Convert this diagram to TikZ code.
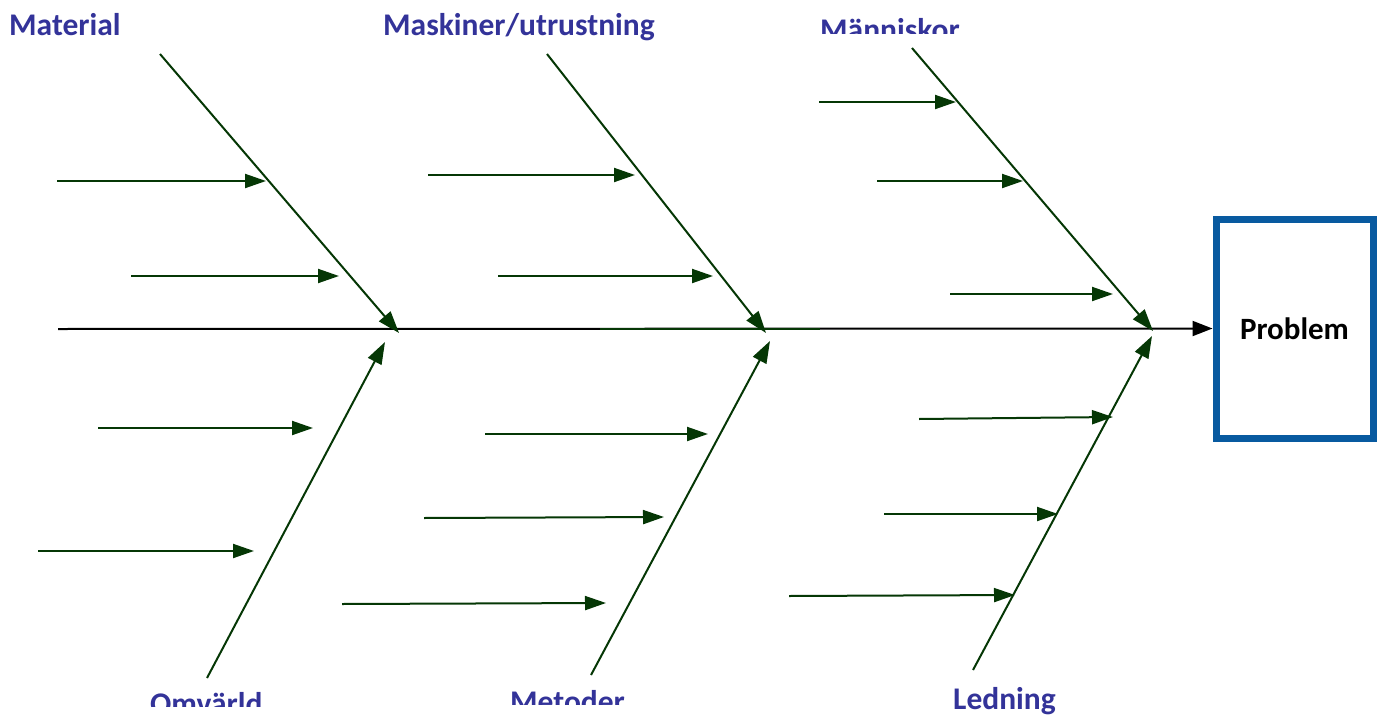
\documentclass[tikz,border=0pt]{standalone}
\usepackage{fontspec}
\setmainfont{Carlito}
\usetikzlibrary{arrows.meta}
\definecolor{bone}{RGB}{5,55,5}
\definecolor{labblue}{RGB}{51,51,153}
\definecolor{boxblue}{RGB}{8,90,160}
\tikzset{
  lab/.style={font=\fontsize{31.5}{37}\selectfont\bfseries, text=labblue, inner sep=0pt, anchor=base west},
  bonearrow/.style={draw=bone, line width=2pt, -{Triangle[length=22pt,width=15pt]}},
  sidearrow/.style={draw=bone, line width=2pt, -{Triangle[length=21pt,width=14pt]}},
  spine/.style={draw=black, line width=2pt},
  probbox/.style={draw=boxblue, line width=7pt, minimum width=157pt, minimum height=219pt, inner sep=0pt, font=\fontsize{31}{37}\selectfont\bfseries}
}
\begin{document}
\begin{tikzpicture}[x=1pt,y=-1pt]
\useasboundingbox (0,0) rectangle (1377,715);
% problem box
\node[probbox] (problem) at (1294.5,328.5) {Problem};
% spine
\coordinate (tail) at (58,329);
\coordinate (g1) at (600,329);
\coordinate (g2) at (820,329);
\draw[spine, -{Triangle[length=20pt,width=15pt]}] (tail) -- (problem.west);
\draw[draw=bone, line width=2pt] (g1) -- (g2);
% labels
\node[lab] (material) at (9,35) {Material};
\node[lab] (maskiner) at (383,35) {Maskiner/utrustning};
\begin{scope}
\clip (800,0) rectangle (1000,33);
\node[lab] (manniskor) at (820,40) {Människor};
\end{scope}
\begin{scope}
\clip (100,680) rectangle (300,706);
\node[lab] (omvarld) at (150,714) {Omvärld};
\end{scope}
\begin{scope}
\clip (480,680) rectangle (680,704);
\node[lab] (metoder) at (510,712) {Metoder};
\end{scope}
\node[lab] (ledning) at (953,709) {Ledning};
% upper bones
\coordinate (a1) at (160,54);   \coordinate (a2) at (399,333);
\coordinate (b1) at (547,54);   \coordinate (b2) at (766,333);
\coordinate (c1) at (912,48);   \coordinate (c2) at (1153,331);
\draw[bonearrow] (a1) -- (a2);
\draw[bonearrow] (b1) -- (b2);
\draw[bonearrow] (c1) -- (c2);
% lower bones
\coordinate (d1) at (207,678);  \coordinate (d2) at (385,342);
\coordinate (e1) at (591,675);  \coordinate (e2) at (770,341);
\coordinate (f1) at (973,670);  \coordinate (f2) at (1152,336);
\draw[bonearrow] (d1) -- (d2);
\draw[bonearrow] (e1) -- (e2);
\draw[bonearrow] (f1) -- (f2);
% side arrows: Material
\coordinate (ma1s) at (57,181);  \coordinate (ma1e) at (266,181);
\coordinate (ma2s) at (131,276); \coordinate (ma2e) at (339,276);
\draw[sidearrow] (ma1s) -- (ma1e);
\draw[sidearrow] (ma2s) -- (ma2e);
% Maskiner
\coordinate (mk1s) at (428,175); \coordinate (mk1e) at (635,175);
\coordinate (mk2s) at (498,276); \coordinate (mk2e) at (713,276);
\draw[sidearrow] (mk1s) -- (mk1e);
\draw[sidearrow] (mk2s) -- (mk2e);
% Människor
\coordinate (mn1s) at (819,102); \coordinate (mn1e) at (956,102);
\coordinate (mn2s) at (877,181); \coordinate (mn2e) at (1023,181);
\coordinate (mn3s) at (950,294); \coordinate (mn3e) at (1113,294);
\draw[sidearrow] (mn1s) -- (mn1e);
\draw[sidearrow] (mn2s) -- (mn2e);
\draw[sidearrow] (mn3s) -- (mn3e);
% Omvärld
\coordinate (om1s) at (98,428);  \coordinate (om1e) at (313,428);
\coordinate (om2s) at (38,551);  \coordinate (om2e) at (254,551);
\draw[sidearrow] (om1s) -- (om1e);
\draw[sidearrow] (om2s) -- (om2e);
% Metoder
\coordinate (me1s) at (485,434); \coordinate (me1e) at (708,434);
\coordinate (me2s) at (424,518); \coordinate (me2e) at (664,517);
\coordinate (me3s) at (342,604); \coordinate (me3e) at (606,603);
\draw[sidearrow] (me1s) -- (me1e);
\draw[sidearrow] (me2s) -- (me2e);
\draw[sidearrow] (me3s) -- (me3e);
% Ledning
\coordinate (le1s) at (919,419); \coordinate (le1e) at (1113,417);
\coordinate (le2s) at (884,514); \coordinate (le2e) at (1058,514);
\coordinate (le3s) at (789,596); \coordinate (le3e) at (1015,595);
\draw[sidearrow] (le1s) -- (le1e);
\draw[sidearrow] (le2s) -- (le2e);
\draw[sidearrow] (le3s) -- (le3e);
\end{tikzpicture}
\end{document}
